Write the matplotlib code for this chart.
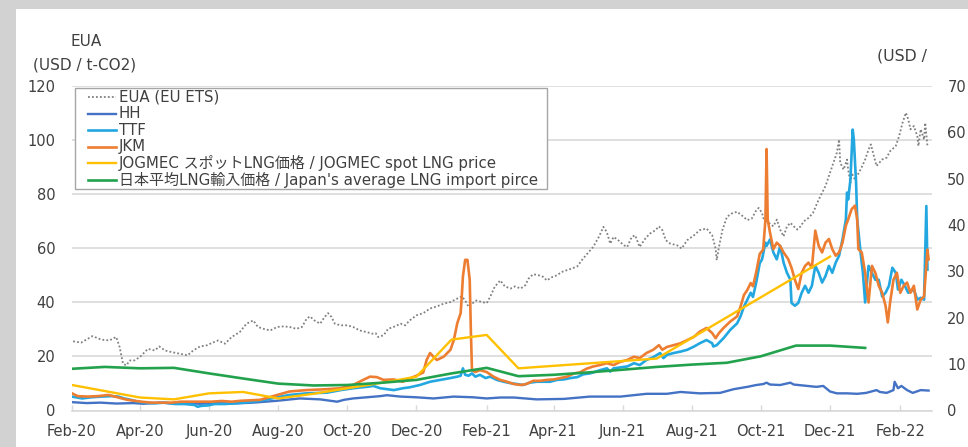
import numpy as np
import pandas as pd
import matplotlib
matplotlib.use('Agg')
import matplotlib.pyplot as plt
import matplotlib.dates as mdates
from matplotlib.patches import Rectangle
from matplotlib.lines import Line2D

start = pd.Timestamp('2020-02-01')

# ---------------- data (days since 2020-02-01) ----------------
eua_days = [1, 8, 18, 26, 33, 39, 42, 45, 48, 51, 55, 60, 67, 73, 77, 82, 88, 95, 102, 107, 113, 119, 123,
            129, 135, 141, 148, 154, 160, 164, 169, 175, 181, 187, 192, 198, 203, 207, 210, 214, 219, 223,
            226, 229, 232, 237, 243, 248, 254, 260, 265, 268, 270, 275, 279, 285, 290, 294, 298, 304, 310,
            316, 322, 328, 334, 340, 344, 347, 350, 353, 357, 362, 366, 369, 373, 378, 382, 387, 391, 396,
            400, 403, 407, 412, 416, 419, 424, 428, 432, 437, 441, 446, 450, 454, 460, 465, 469, 472, 475,
            478, 482, 487, 490, 494, 497, 501, 506, 510, 515, 518, 521, 524, 528, 534, 538, 543, 549, 554,
            560, 565, 568, 569, 571, 574, 578, 582, 587, 591, 596, 600, 604, 606, 609, 610, 615, 619, 622,
            625, 628, 631, 634, 637, 640, 643, 646, 650, 654, 659, 662, 665, 669, 672, 675, 677, 678, 681,
            684, 685, 687, 688, 691, 696, 700, 703, 705, 707, 710, 715, 719, 722, 727, 730, 733, 736, 738,
            740, 743, 746, 747, 749, 752, 753, 755]
eua_vals = [25.6, 25.1, 27.5, 26.2, 25.9, 27.2, 23.5, 17.3, 16.7, 18.5, 18.5, 19.8, 22.8, 22.2, 23.7, 22.2,
            21.6, 21.0, 20.4, 22.2, 23.7, 24.1, 24.9, 25.9, 24.7, 27.2, 29.0, 32.1, 33.3, 30.9, 30.2, 29.6,
            30.9, 31.1, 30.9, 30.2, 30.9, 33.9, 34.8, 33.3, 32.1, 34.6, 36.0, 34.6, 32.1, 31.5, 31.5, 30.9,
            29.6, 29.0, 28.4, 28.6, 27.2, 27.8, 30.2, 31.1, 32.1, 31.5, 33.3, 35.2, 36.0, 37.7, 38.5, 39.5,
            40.1, 41.4, 42.2, 40.7, 38.3, 39.5, 40.7, 40.1, 39.7, 42.0, 45.7, 48.1, 45.9, 45.1, 45.9, 45.1,
            46.3, 48.8, 50.4, 50.0, 49.4, 48.1, 49.4, 50.0, 51.2, 51.9, 52.5, 53.3, 55.6, 57.6, 60.5, 64.2,
            67.9, 66.0, 61.7, 64.2, 63.0, 61.1, 60.5, 64.2, 64.8, 60.5, 63.6, 65.4, 66.7, 68.1, 66.7, 63.0,
            61.7, 61.1, 59.9, 63.0, 64.8, 66.7, 67.3, 64.8, 59.9, 55.6, 60.5, 66.7, 71.6, 72.8, 73.5, 72.2,
            70.4, 71.0, 74.1, 74.9, 73.1, 71.2, 69.4, 68.1, 70.6, 66.9, 64.4, 68.1, 69.4, 68.1, 66.9, 68.1,
            70.0, 71.2, 73.1, 78.0, 80.5, 83.0, 87.9, 91.6, 95.3, 100.2, 91.6, 89.1, 92.8, 89.1, 84.2, 87.9,
            85.4, 89.1, 92.8, 96.5, 98.4, 95.3, 90.4, 92.8, 93.5, 95.9, 97.8, 101.5, 106.4, 110.1, 107.7,
            104.0, 105.2, 101.5, 97.8, 104.0, 100.2, 106.4, 97.8]

hh_days = [0, 13, 25, 39, 54, 63, 78, 89, 101, 113, 125, 142, 160, 181, 201, 219, 234, 240, 248, 260, 272,
           278, 290, 304, 319, 337, 354, 366, 378, 390, 410, 434, 457, 484, 507, 525, 537, 554, 572, 584,
           596, 604, 610, 613, 616, 625, 634, 637, 649, 657, 663, 669, 675, 684, 693, 701, 710, 713, 719,
           725, 726, 729, 732, 737, 742, 749, 756]
hh_vals = [1.8, 1.6, 1.7, 1.5, 1.6, 1.45, 1.7, 1.5, 1.6, 1.45, 1.6, 1.5, 1.7, 2.1, 2.6, 2.4, 1.9, 2.3, 2.6,
           2.85, 3.1, 3.3, 3.0, 2.85, 2.6, 3.0, 2.85, 2.6, 2.8, 2.8, 2.4, 2.5, 3.0, 3.0, 3.6, 3.6, 4.0, 3.7,
           3.8, 4.6, 5.1, 5.5, 5.7, 6.0, 5.6, 5.5, 6.0, 5.6, 5.3, 5.1, 5.3, 4.1, 3.7, 3.7, 3.6, 3.8, 4.4,
           4.0, 3.8, 4.4, 6.2, 4.8, 5.3, 4.4, 3.8, 4.4, 4.3]

ttf_days = [0, 9, 17, 26, 35, 41, 46, 52, 58, 64, 73, 82, 91, 99, 108, 111, 114, 120, 126, 135, 144, 152,
            166, 181, 192, 207, 225, 237, 248, 260, 266, 272, 284, 292, 298, 307, 316, 325, 334, 340, 343,
            345, 347, 350, 353, 356, 360, 365, 369, 375, 381, 387, 393, 398, 404, 410, 416, 422, 428, 434,
            440, 446, 451, 457, 460, 466, 472, 475, 478, 484, 490, 496, 501, 507, 513, 519, 522, 525, 531,
            537, 543, 549, 554, 560, 565, 566, 569, 575, 581, 587, 590, 593, 596, 599, 601, 604, 607, 609,
            612, 613, 616, 619, 622, 625, 628, 631, 634, 635, 638, 641, 644, 647, 650, 653, 656, 659, 662,
            665, 668, 671, 674, 677, 680, 683, 684, 685, 687, 689, 690, 692, 693, 696, 698, 700, 703, 706,
            709, 712, 715, 718, 721, 724, 727, 729, 732, 735, 738, 743, 746, 749, 752, 754, 755]
ttf_vals = [3.0, 2.6, 2.85, 3.0, 3.1, 3.0, 2.6, 2.3, 1.9, 1.7, 1.55, 1.7, 1.4, 1.4, 1.2, 0.8, 1.0, 1.1, 1.4,
            1.4, 1.55, 1.7, 2.1, 2.85, 3.35, 3.7, 3.85, 4.4, 4.8, 5.1, 5.3, 4.8, 4.4, 4.8, 5.0, 5.5, 6.2,
            6.6, 7.0, 7.3, 7.5, 9.1, 7.7, 7.5, 8.0, 7.3, 7.7, 7.0, 7.3, 6.6, 6.2, 5.9, 5.7, 5.5, 6.0, 6.2,
            6.2, 6.2, 6.6, 6.7, 7.0, 7.2, 7.8, 8.0, 8.2, 8.7, 9.1, 8.4, 9.1, 9.3, 9.5, 10.2, 9.8, 10.9, 11.5,
            12.4, 11.3, 12.0, 12.4, 12.7, 13.1, 13.8, 14.5, 15.2, 14.5, 13.8, 14.1, 15.6, 17.4, 18.8, 20.3,
            22.4, 23.9, 25.4, 24.5, 27.8, 31.8, 32.6, 36.2, 35.5, 36.9, 34.1, 32.6, 35.5, 31.9, 29.7, 28.2,
            23.2, 22.6, 23.2, 25.4, 26.9, 25.4, 26.9, 31.2, 29.7, 27.6, 29.0, 31.2, 29.7, 31.9, 33.4, 36.9,
            41.2, 47.0, 45.5, 49.8, 60.6, 58.5, 49.1, 41.2, 34.0, 29.7, 23.3, 31.2, 29.7, 28.2, 28.2, 24.6,
            25.4, 26.9, 30.8, 29.7, 26.1, 28.2, 26.9, 25.4, 26.1, 23.9, 24.3, 23.9, 44.1, 30.4]

jkm_days = [0, 5, 14, 23, 32, 38, 44, 49, 55, 61, 70, 79, 88, 96, 105, 114, 123, 132, 141, 149, 166, 181,
            192, 207, 225, 237, 248, 257, 263, 269, 275, 284, 292, 298, 304, 310, 313, 316, 319, 322, 328,
            334, 337, 340, 343, 344, 345, 347, 349, 351, 352, 353, 356, 360, 366, 372, 378, 384, 390, 396,
            401, 407, 413, 419, 425, 431, 437, 443, 448, 454, 460, 466, 472, 478, 484, 490, 496, 501, 507,
            513, 518, 521, 525, 531, 537, 543, 549, 554, 560, 565, 568, 571, 575, 581, 587, 590, 593, 596,
            599, 601, 604, 607, 610, 612, 613, 614, 616, 619, 622, 625, 628, 632, 635, 638, 641, 644, 647,
            650, 653, 656, 659, 662, 665, 668, 671, 674, 677, 680, 683, 685, 688, 691, 693, 694, 697, 700,
            703, 706, 709, 712, 715, 718, 720, 722, 725, 728, 731, 734, 737, 740, 743, 746, 749, 752, 755,
            756]
jkm_vals = [3.7, 3.1, 3.0, 3.1, 3.35, 3.0, 2.6, 2.3, 2.1, 1.9, 1.7, 1.7, 1.7, 1.9, 1.9, 1.9, 1.9, 2.05, 1.9,
            2.1, 2.3, 3.35, 4.1, 4.4, 4.6, 4.8, 5.5, 6.6, 7.3, 7.2, 6.6, 6.7, 6.2, 6.9, 7.5, 8.2, 10.9, 12.4,
            11.6, 10.9, 11.6, 13.1, 15.2, 18.8, 21.0, 24.6, 28.9, 32.5, 32.5, 28.2, 17.4, 8.7, 8.3, 8.7, 8.3,
            7.3, 6.6, 6.2, 5.7, 5.5, 5.7, 6.4, 6.4, 6.6, 6.7, 7.0, 7.3, 8.0, 8.2, 9.0, 9.5, 9.8, 10.2, 9.8,
            10.5, 10.9, 11.6, 11.3, 12.4, 13.1, 14.1, 13.1, 13.7, 14.1, 14.5, 15.2, 15.9, 17.0, 17.8, 16.7,
            15.6, 16.7, 17.8, 19.2, 20.3, 22.4, 24.9, 26.0, 27.5, 26.8, 30.0, 33.8, 34.7, 41.2, 56.4, 41.2,
            38.4, 34.8, 36.2, 35.5, 34.1, 32.7, 30.8, 28.2, 26.2, 29.7, 31.2, 31.9, 30.8, 38.8, 35.5, 34.1,
            36.2, 37.0, 34.8, 33.4, 34.1, 36.2, 39.9, 41.2, 43.4, 44.2, 41.2, 34.8, 34.1, 29.7, 23.3, 31.2,
            29.7, 26.9, 25.4, 22.6, 19.0, 23.3, 28.2, 29.7, 25.4, 26.9, 27.6, 25.4, 26.9, 21.8, 23.9, 24.6,
            34.7, 32.6]

jogmec_dates = ['2020-02-01', '2020-04-01', '2020-05-01', '2020-06-01', '2020-07-01', '2020-08-01',
                '2020-09-01', '2020-10-01', '2020-11-01', '2020-12-01', '2021-01-01', '2021-02-01',
                '2021-03-01', '2021-07-01', '2021-12-01']
jogmec_vals = [5.5, 2.8, 2.4, 3.7, 4.0, 2.6, 3.6, 4.8, 6.0, 7.3, 15.3, 16.3, 9.1, 11.2, 33.2]

japan_dates = ['2020-02-01', '2020-03-01', '2020-04-01', '2020-05-01', '2020-06-01', '2020-07-01',
               '2020-08-01', '2020-09-01', '2020-10-01', '2020-11-01', '2020-12-01', '2021-01-01',
               '2021-02-01', '2021-03-01', '2021-04-01', '2021-05-01', '2021-06-01', '2021-07-01',
               '2021-08-01', '2021-09-01', '2021-10-01', '2021-11-01', '2021-12-01', '2022-01-01']
japan_vals = [9.0, 9.4, 9.1, 9.2, 8.0, 6.9, 5.8, 5.4, 5.5, 6.0, 6.6, 8.0, 9.2, 7.4, 7.7, 8.2, 8.8, 9.4,
              9.9, 10.3, 11.7, 14.0, 14.0, 13.5]

labels = ['EUA (EU ETS)', 'HH', 'TTF', 'JKM',
          'JOGMEC スポットLNG価格 / JOGMEC spot LNG price',
          "日本平均LNG輸入価格 / Japan's average LNG import pirce"]
left_title = ['EUA', '(USD / t-CO2)']
right_title = '(USD /'
left_ticks = [0, 20, 40, 60, 80, 100, 120]
right_ticks = [0, 10, 20, 30, 40, 50, 60, 70]


def to_dates(days):
    return start + pd.to_timedelta(days, unit='D')


# ---------------- styling ----------------
C_EUA = '#808080'
C_HH = '#4472C4'
C_TTF = '#22A7E0'
C_JKM = '#ED7D31'
C_JOG = '#FFC000'
C_JPN = '#23A24D'
TXT = '#404040'
GRID = '#D9D9D9'
FONT = ['DejaVu Sans', 'Noto Sans CJK JP']

W, H = 968, 447
fig = plt.figure(figsize=(W / 100, H / 100), dpi=100)
fig.patch.set_facecolor('#D2D2D2')
fig.patches.append(Rectangle((16 / W, 0), 1 - 16 / W, 1 - 9 / H, transform=fig.transFigure,
                             facecolor='white', edgecolor='none', zorder=-5))


def px(x, y):
    return x / W, 1 - y / H


ax = fig.add_axes([72 / W, 1 - 410.5 / H, 860 / W, 324.5 / H])
ax.set_facecolor('none')
ax2 = ax.twinx()
ax2.set_facecolor('none')

ax.plot(to_dates(eua_days), eua_vals, color=C_EUA, lw=1.3, ls=(0, (1, 1.2)), zorder=3)
ax2.plot(to_dates(hh_days), hh_vals, color=C_HH, lw=1.7, zorder=3)
ax2.plot(to_dates(ttf_days), ttf_vals, color=C_TTF, lw=1.9, zorder=4)
ax2.plot(to_dates(jkm_days), jkm_vals, color=C_JKM, lw=1.9, zorder=5)
ax2.plot(pd.to_datetime(jogmec_dates), jogmec_vals, color=C_JOG, lw=1.7, zorder=6)
ax2.plot(pd.to_datetime(japan_dates), japan_vals, color=C_JPN, lw=1.9, zorder=7)

ax.set_ylim(0, 120)
ax2.set_ylim(0, 70)
ax.set_yticks(left_ticks)
ax2.set_yticks(right_ticks)
ax.set_xlim(start, start + pd.Timedelta(days=759))
ax.xaxis.set_major_locator(mdates.MonthLocator(bymonth=[2, 4, 6, 8, 10, 12]))
ax.xaxis.set_major_formatter(mdates.DateFormatter('%b-%y'))

ax.yaxis.grid(True, color=GRID, lw=1.2)
ax.set_axisbelow(True)
for a in (ax, ax2):
    for s in a.spines.values():
        s.set_visible(False)
ax.spines['bottom'].set_visible(True)
ax.spines['bottom'].set_color(GRID)
ax.spines['bottom'].set_linewidth(1.2)

ax.tick_params(axis='y', length=0, pad=12, labelsize=10.5, labelcolor=TXT)
ax2.tick_params(axis='y', length=0, pad=11, labelsize=10.5, labelcolor=TXT)
ax.tick_params(axis='x', direction='in', length=4, width=1, color=GRID, pad=10,
               labelsize=10.5, labelcolor=TXT)

# axis titles
fig.text(*px(86, 42), left_title[0], ha='center', va='center', fontsize=11, color=TXT, family=FONT)
fig.text(*px(85, 65), left_title[1], ha='center', va='center', fontsize=11, color=TXT, family=FONT)
fig.text(*px(877, 56), right_title, ha='left', va='center', fontsize=11.3, color=TXT, family=FONT)

# legend (manual layout)
x0, y0, x1, y1 = 75, 88, 547, 189
fig.patches.append(Rectangle(px(x0, y1), (x1 - x0) / W, (y1 - y0) / H, transform=fig.transFigure,
                             facecolor='white', edgecolor='#A6A6A6', lw=1.0, zorder=20))
styles = [dict(color=C_EUA, lw=1.3, ls=(0, (1, 1.2))), dict(color=C_HH, lw=1.7),
          dict(color=C_TTF, lw=1.9), dict(color=C_JKM, lw=1.9), dict(color=C_JOG, lw=1.7),
          dict(color=C_JPN, lw=1.9)]
for i, (lab, st) in enumerate(zip(labels, styles)):
    yc = 97.3 + i * 16.5
    fx0, fy = px(88, yc)
    fx1, _ = px(116, yc)
    fig.lines.append(Line2D([fx0, fx1], [fy, fy], transform=fig.transFigure, zorder=21, **st))
    fig.text(*px(119, yc), lab, ha='left', va='center', fontsize=10.8, color=TXT, family=FONT,
             zorder=22)

fig.savefig('out.png', dpi=100, facecolor=fig.get_facecolor())
